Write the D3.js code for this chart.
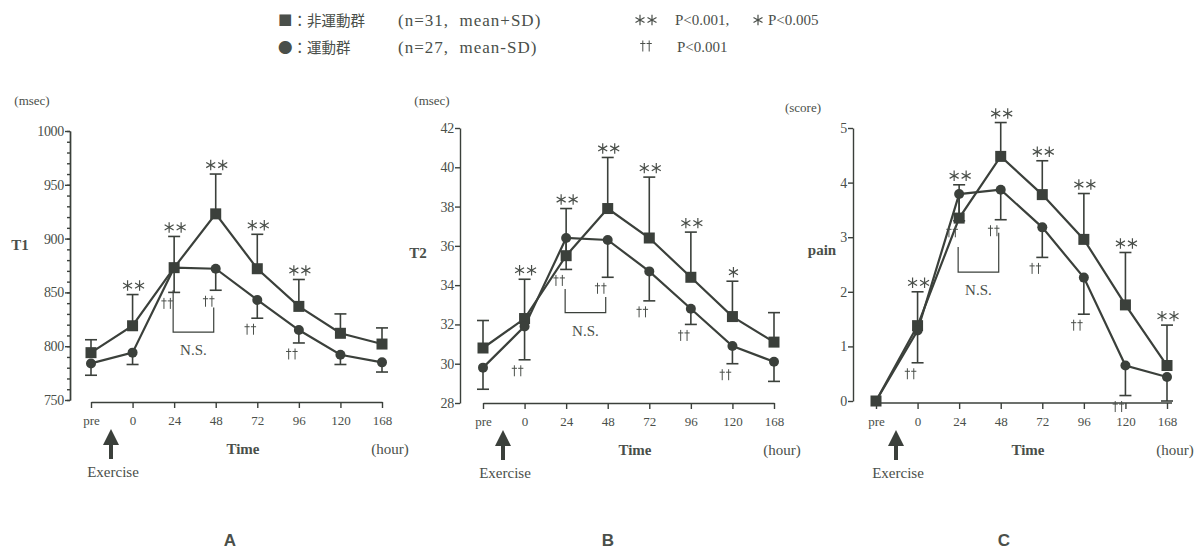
<!DOCTYPE html>
<html lang="ja">
<head>
<meta charset="utf-8">
<title>T1 / T2 / pain</title>
<script src="https://d3js.org/d3.v7.min.js"></script>
<style>
  body { margin: 0; background: #fff; }
  svg text { font-family: "Liberation Serif", "DejaVu Serif", serif; fill: #4a4f4a; }
  .cjk { font-family: "Noto Sans CJK JP", sans-serif !important; }
  .axis path, .axis line { stroke: #3b403b; stroke-width: 1.4; }
  .axis text { font-family: "Liberation Serif", serif; fill: #4a4f4a; }
</style>
</head>
<body>
<div id="chart"></div>
<script>
// time points (x axis)
var times = ["pre", "0", "24", "48", "72", "96", "120", "168"];

// A : T1 (msec)
var t1Sed   = [794, 819, 873, 923, 872, 837, 812, 802];   // 非運動群 mean
var t1SedSD = [806, 848, 902, 960, 904, 862, 830, 817];   // mean+SD
var t1Ex    = [784, 794, 873, 872, 843, 815, 792, 785];   // 運動群 mean
var t1ExSD  = [773, 783, 850, 852, 826, 803, 783, 776];   // mean-SD
var t1Stars = [0, 2, 2, 2, 2, 2, 0, 0];
var t1Dag   = [0, 0, 2, 2, 2, 2, 0, 0];
var t1NS    = [852, 836, 813];

// B : T2 (msec)
var t2Sed   = [30.8, 32.3, 35.5, 37.9, 36.4, 34.4, 32.4, 31.1];
var t2SedSD = [32.2, 34.3, 37.9, 40.5, 39.5, 36.7, 34.2, 32.6];
var t2Ex    = [29.8, 31.9, 36.4, 36.3, 34.7, 32.8, 30.9, 30.1];
var t2ExSD  = [28.7, 30.2, 34.8, 34.4, 33.2, 32.0, 30.0, 29.1];
var t2Stars = [0, 2, 2, 2, 2, 2, 1, 0];
var t2Dag   = [0, 2, 2, 2, 2, 2, 2, 0];
var t2NS    = [33.8, 33.4, 32.6];

// C : pain (score)
var painSed   = [0, 1.38, 3.35, 4.48, 3.78, 2.96, 1.76, 0.65];
var painSedSD = [0, 2.0, 3.96, 5.1, 4.4, 3.8, 2.72, 1.39];
var painEx    = [0, 1.29, 3.79, 3.87, 3.18, 2.26, 0.65, 0.44];
var painExSD  = [0, 0.70, 3.3, 3.32, 2.63, 1.59, 0.1, 0.0];
var painStars = [0, 2, 2, 2, 2, 2, 2, 2];
var painDag   = [0, 2, 2, 2, 2, 2, 2, 0];
var painNS    = [2.82, 3.08, 2.36];

var ink = "#3b403b";
var textInk = "#4a4f4a";

var panels = [
  {letter: "A", name: "T1", unit: "(msec)", dom: [750, 1000], major: 50, minor: 10,
   sed: t1Sed, sedSD: t1SedSD, ex: t1Ex, exSD: t1ExSD, stars: t1Stars, dag: t1Dag, ns: t1NS,
   x0: 91, x1: 382, axisX: 70, yTop: 131, yBot: 400, xAxisY: 402,
   namePos: [20, 245], unitPos: [32, 100], letterX: 230},
  {letter: "B", name: "T2", unit: "(msec)", dom: [28, 42], major: 2, minor: null,
   sed: t2Sed, sedSD: t2SedSD, ex: t2Ex, exSD: t2ExSD, stars: t2Stars, dag: t2Dag, ns: t2NS,
   x0: 483, x1: 774, axisX: 460, yTop: 128, yBot: 403, xAxisY: 403,
   namePos: [418, 253], unitPos: [432, 100], letterX: 608},
  {letter: "C", name: "pain", unit: "(score)", dom: [0, 5], major: 1, minor: null,
   sed: painSed, sedSD: painSedSD, ex: painEx, exSD: painExSD, stars: painStars, dag: painDag, ns: painNS,
   x0: 876, x1: 1167, axisX: 853, yTop: 128, yBot: 401, xAxisY: 403,
   namePos: [822, 250], unitPos: [803, 107], letterX: 1004}
];

var svg = d3.select("#chart").append("svg")
    .attr("width", 1196)
    .attr("height", 552);

// little glyphs drawn as paths (asterisk = 6 arms, dagger = cross)
function star(g, cx, cy, r) {
  var d = "";
  [90, 30, -30].forEach(function(a) {
    var dx = r * Math.cos(a * Math.PI / 180), dy = r * Math.sin(a * Math.PI / 180);
    d += "M" + (cx - dx) + "," + (cy - dy) + "L" + (cx + dx) + "," + (cy + dy);
  });
  g.append("path").attr("d", d).attr("stroke", textInk).attr("stroke-width", 1.2).attr("fill", "none");
}
function stars(g, cx, cy, n) {
  if (n == 2) { star(g, cx - 6, cy, 5.2); star(g, cx + 6, cy, 5.2); }
  else if (n == 1) star(g, cx, cy, 5.2);
}
function dagger(g, cx, cy) {
  var d = "M" + cx + "," + (cy - 5.5) + "V" + (cy + 5.5) +
          "M" + (cx - 2.6) + "," + (cy - 2.5) + "H" + (cx + 2.6);
  g.append("path").attr("d", d).attr("stroke", textInk).attr("stroke-width", 1).attr("fill", "none");
}
function daggers(g, cx, cy, n) {
  if (n == 2) { dagger(g, cx - 3.2, cy); dagger(g, cx + 3.2, cy); }
}

// legend
var leg = svg.append("g");
leg.append("text").attr("class", "cjk").attr("x", 278).attr("y", 26)
   .style("font-size", "14.5px").text("■：非運動群");
leg.append("text").attr("x", 398).attr("y", 26)
   .style("font-size", "17px").style("letter-spacing", "1px").text("(n=31,\u00a0 mean+SD)");
leg.append("text").attr("class", "cjk").attr("x", 278).attr("y", 53)
   .style("font-size", "14.5px").text("●：運動群");
leg.append("text").attr("x", 398).attr("y", 53)
   .style("font-size", "17px").style("letter-spacing", "1px").text("(n=27,\u00a0 mean-SD)");

stars(leg, 646, 20, 2);
leg.append("text").attr("x", 675).attr("y", 25).style("font-size", "15px").text("P<0.001,");
stars(leg, 758, 20, 1);
leg.append("text").attr("x", 768).attr("y", 25).style("font-size", "15px").text("P<0.005");
daggers(leg, 646, 46, 2);
leg.append("text").attr("x", 677).attr("y", 52).style("font-size", "15px").text("P<0.001");

panels.forEach(function(p) {
  var g = svg.append("g");

  var x = d3.scalePoint().domain(times).range([p.x0, p.x1]);
  var y = d3.scaleLinear().domain(p.dom).range([p.yBot, p.yTop]);

  // y axis: minor ticks then major ticks
  if (p.minor) {
    g.append("g").attr("class", "axis")
      .attr("transform", "translate(" + p.axisX + ",0)")
      .call(d3.axisLeft(y).tickValues(d3.range(p.dom[0], p.dom[1] + 0.001, p.minor))
            .tickSize(3).tickSizeOuter(0).tickFormat(""));
  }
  var yAx = g.append("g").attr("class", "axis")
    .attr("transform", "translate(" + p.axisX + ",0)")
    .call(d3.axisLeft(y).tickValues(d3.range(p.dom[0], p.dom[1] + 0.001, p.major))
          .tickSize(5).tickSizeOuter(0).tickPadding(1).tickFormat(d3.format("d")));
  yAx.selectAll("text").style("font-size", "14px").style("letter-spacing", "-0.3px");

  // x axis
  var xAx = g.append("g").attr("class", "axis")
    .attr("transform", "translate(0," + p.xAxisY + ")")
    .call(d3.axisBottom(x).tickSize(6).tickSizeOuter(0).tickPadding(8));
  xAx.selectAll("text").style("font-size", "13px");
  if (p.letter == "C") {
    xAx.select(".domain").attr("d", "M" + p.x0 + ",0H" + (p.x1 + 5));
  }

  // axis titles
  g.append("text").attr("x", p.namePos[0]).attr("y", p.namePos[1] + 5)
    .attr("text-anchor", "middle").style("font-size", "15px").style("font-weight", "bold")
    .text(p.name);
  g.append("text").attr("x", p.unitPos[0]).attr("y", p.unitPos[1] + 5)
    .attr("text-anchor", "middle").style("font-size", "13px").text(p.unit);
  g.append("text").attr("x", p.x0 + 152).attr("y", p.xAxisY + 52)
    .attr("text-anchor", "middle").style("font-size", "15px").style("font-weight", "bold")
    .text("Time");
  g.append("text").attr("x", p.x1 + 8).attr("y", p.xAxisY + 52)
    .attr("text-anchor", "middle").style("font-size", "15px").text("(hour)");

  // Exercise arrow
  var ax = p.x0 + 20, ay = p.xAxisY + 27;
  g.append("path")
    .attr("d", "M" + ax + "," + ay + "l-8,16h6v14h4v-14h6z")
    .attr("fill", ink);
  g.append("text").attr("x", p.x0 + 22).attr("y", p.xAxisY + 75)
    .attr("text-anchor", "middle").style("font-size", "15px").text("Exercise");

  // lines
  var line = d3.line().x(function(d, i) { return x(times[i]); }).y(function(d) { return y(d); });
  [p.ex, p.sed].forEach(function(s) {
    g.append("path").datum(s).attr("d", line)
      .attr("fill", "none").attr("stroke", ink).attr("stroke-width", 2.2);
  });

  // error bars (square: up, circle: down)
  function bars(mean, sd) {
    var eb = g.append("g").attr("stroke", ink).attr("stroke-width", 1.6);
    times.forEach(function(t, i) {
      if (Math.abs(sd[i] - mean[i]) < 1e-9) return;
      eb.append("line").attr("x1", x(t)).attr("x2", x(t))
        .attr("y1", y(mean[i])).attr("y2", y(sd[i]));
      eb.append("line").attr("x1", x(t) - 6).attr("x2", x(t) + 6)
        .attr("y1", y(sd[i])).attr("y2", y(sd[i]));
    });
  }
  bars(p.ex, p.exSD);
  bars(p.sed, p.sedSD);

  // markers
  g.selectAll(".sq").data(p.sed).enter().append("rect")
    .attr("x", function(d, i) { return x(times[i]) - 5.5; })
    .attr("y", function(d) { return y(d) - 5.5; })
    .attr("width", 11).attr("height", 11).attr("fill", ink);
  g.selectAll(".ci").data(p.ex).enter().append("circle")
    .attr("cx", function(d, i) { return x(times[i]); })
    .attr("cy", function(d) { return y(d); })
    .attr("r", 5).attr("fill", ink);

  // significance marks
  times.forEach(function(t, i) {
    stars(g, x(t) + 1, y(p.sedSD[i]) - 9, p.stars[i]);
    daggers(g, x(t) - 7, y(p.exSD[i]) + 11, p.dag[i]);
  });

  // N.S. bracket between 24h and 48h
  var bl = x("24") - 1, br = x("48") - 2;
  g.append("path")
    .attr("d", "M" + bl + "," + y(p.ns[0]) + "V" + y(p.ns[2]) + "H" + br + "V" + y(p.ns[1]))
    .attr("fill", "none").attr("stroke", ink).attr("stroke-width", 1.2);
  g.append("text").attr("x", (bl + br) / 2).attr("y", y(p.ns[2]) + 23)
    .attr("text-anchor", "middle").style("font-size", "15px").text("N.S.");

  // panel letter
  svg.append("text").attr("x", p.letterX).attr("y", 546)
    .attr("text-anchor", "middle")
    .style("font-family", "'Liberation Sans', Arial, sans-serif")
    .style("font-weight", "bold").style("font-size", "17px")
    .text(p.letter);
});
</script>
</body>
</html>
